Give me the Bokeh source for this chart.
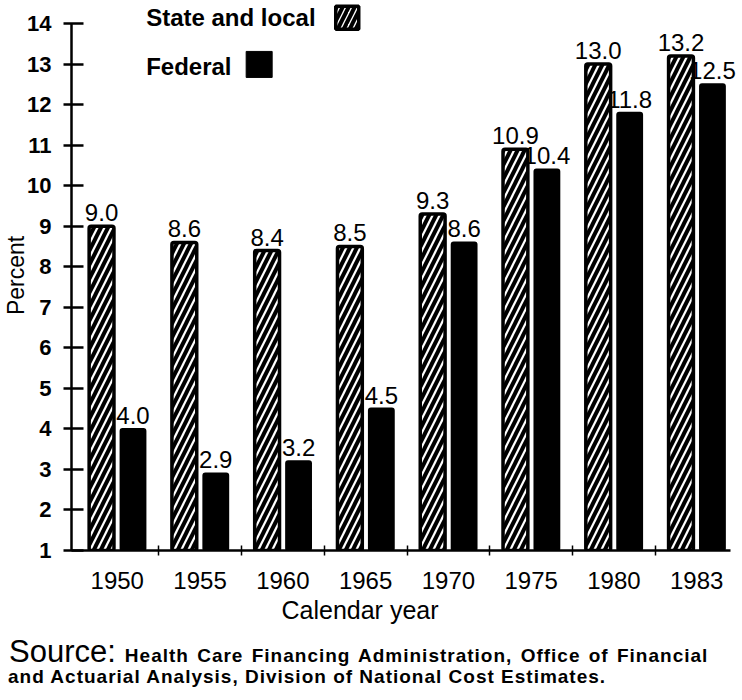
from bokeh.plotting import figure
from bokeh.models import ColumnDataSource, FixedTicker, Range1d, Label, Div
from bokeh.layouts import column
from bokeh.transform import dodge
from bokeh.core.properties import value
from bokeh.embed import file_html
from bokeh.resources import INLINE

# ---- data ----
years = ["1950", "1955", "1960", "1965", "1970", "1975", "1980", "1983"]
state_local = [9.0, 8.6, 8.4, 8.5, 9.3, 10.9, 13.0, 13.2]
federal = [4.0, 2.9, 3.2, 4.5, 8.6, 10.4, 11.8, 12.5]
y_ticks = list(range(1, 15))
series_names = ["State and local", "Federal"]
x_title = "Calendar year"
y_title = "Percent"
source_head = "Source:"
source_lines = [
    "Health Care Financing Administration, Office of Financial",
    "and Actuarial Analysis, Division of National Cost Estimates.",
]

FONT = "Liberation Sans"
W = 742
H_MAIN = 596
H_NOTE = 102

idx = list(range(len(years)))
src = ColumnDataSource(dict(
    x=idx,
    state=state_local,
    fed=federal,
    state_lbl=[f"{v:.1f}" for v in state_local],
    fed_lbl=[f"{v:.1f}" for v in federal],
))

p = figure(width=W, height=H_MAIN, output_backend="svg", toolbar_location=None,
           x_range=Range1d(-0.553, 7.553), y_range=Range1d(1, 14.567),
           min_border_left=68, min_border_right=0, min_border_top=0,
           min_border_bottom=H_MAIN - 550, background_fill_color="white",
           border_fill_color="white")
p.outline_line_color = None
p.xgrid.visible = False
p.ygrid.visible = False

OFF = 0.19
BW = 0.30
p.vbar(x=dodge("x", -OFF), top="state", bottom=1, width=BW, source=src,
       fill_color="white", line_color="black", line_width=3.5,
       hatch_pattern="/", hatch_scale=14, hatch_weight=4, hatch_color="black",
       border_radius=2)
p.vbar(x=dodge("x", OFF), top="fed", bottom=1, width=BW, source=src,
       fill_color="black", line_color="black", line_width=2, border_radius=2)

p.text(x=dodge("x", -OFF), y="state", text="state_lbl", source=src,
       text_align="center", text_baseline="bottom", y_offset=-5,
       text_font=value(FONT), text_font_size="24px", text_color="black")
p.text(x=dodge("x", OFF), y="fed", text="fed_lbl", source=src,
       text_align="center", text_baseline="bottom", y_offset=-5,
       text_font=value(FONT), text_font_size="24px", text_color="black")

# ---- axes ----
ya = p.yaxis[0]
ya.ticker = FixedTicker(ticks=y_ticks)
ya.bounds = (1, 14)
ya.axis_line_width = 2.5
ya.major_tick_line_width = 2.5
ya.major_tick_in = 12
ya.major_tick_out = 8
ya.minor_tick_line_color = None
ya.major_label_standoff = 12
ya.major_label_text_font = FONT
ya.major_label_text_font_size = "22px"
ya.major_label_text_font_style = "bold"
ya.major_label_text_color = "black"
ya.axis_label = y_title
ya.axis_label_standoff = -5
ya.axis_label_text_font = FONT
ya.axis_label_text_font_size = "23px"
ya.axis_label_text_font_style = "normal"
ya.axis_label_text_color = "black"

xa = p.xaxis[0]
xa.ticker = FixedTicker(ticks=idx, minor_ticks=[i + 0.5 for i in idx[:-1]])
xa.major_label_overrides = {i: y for i, y in zip(idx, years)}
xa.bounds = (-0.553, 7.41)
xa.axis_line_width = 2.5
xa.major_tick_in = 0
xa.major_tick_out = 0
xa.minor_tick_in = 5
xa.minor_tick_out = 5
xa.minor_tick_line_width = 1.5
xa.major_label_standoff = 16
xa.major_label_text_font = FONT
xa.major_label_text_font_size = "24px"
xa.major_label_text_color = "black"

# ---- legend (label left of swatch) ----
p.add_layout(Label(x=0.349, y=14.148, text=series_names[0], text_baseline="middle",
                   text_font=FONT, text_font_size="24px", text_font_style="bold",
                   text_color="black"))
p.add_layout(Label(x=0.349, y=12.939, text=series_names[1], text_baseline="middle",
                   text_font=FONT, text_font_size="24px", text_font_style="bold",
                   text_color="black"))
p.rect(x=[2.778], y=[14.14], width=23, height=23, width_units="screen",
       height_units="screen", fill_color="white", line_color="black", line_width=3.5,
       hatch_pattern="/", hatch_scale=12, hatch_weight=4, hatch_color="black")
p.rect(x=[1.714], y=[12.99], width=26, height=26, width_units="screen",
       height_units="screen", fill_color="black", line_color="black", line_width=1)

# ---- lower panel: x title and source note ----
note_html = f"""
<div style="position:relative;width:{W}px;height:{H_NOTE}px;font-family:'Liberation Sans',Arial,sans-serif;color:#000;font-size:19px;">
  <div style="position:absolute;left:0;top:2px;width:720px;text-align:center;font-size:25px;line-height:25px;white-space:nowrap;">{x_title}</div>
  <div style="position:absolute;left:9px;top:40px;white-space:nowrap;line-height:1;"><span style="font-size:31px;">{source_head}</span><span style="margin-left:9px;font-size:19px;font-weight:bold;letter-spacing:1px;word-spacing:2px;">{source_lines[0]}</span></div>
  <div style="position:absolute;left:8px;top:71px;white-space:nowrap;line-height:1;font-size:19px;font-weight:bold;letter-spacing:1px;">{source_lines[1]}</div>
</div>
"""
note = Div(text=note_html, width=W, height=H_NOTE, margin=0)

layout = column(p, note, spacing=0)
open("out.html", "w").write(file_html(layout, INLINE))
